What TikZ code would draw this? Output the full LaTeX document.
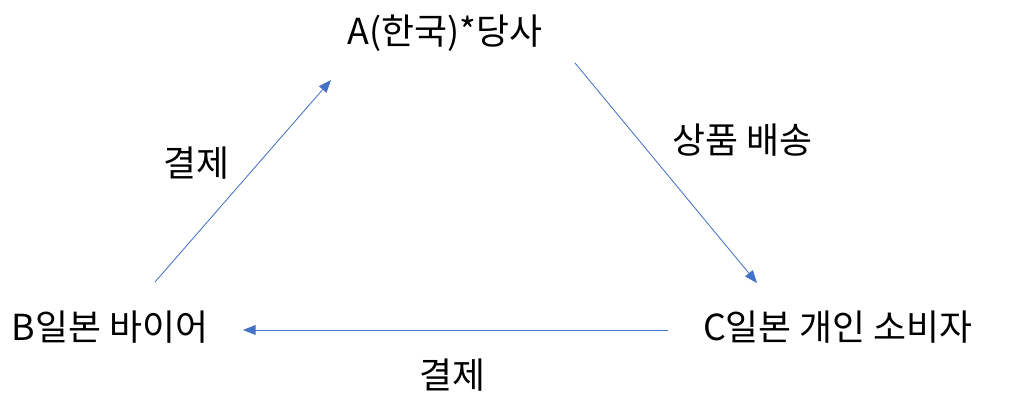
\documentclass[tikz,border=0pt]{standalone}
\usepackage{fontspec}
\setmainfont{Noto Sans CJK KR}
\usepackage{tikz}
\usetikzlibrary{arrows.meta,positioning}
\definecolor{flowblue}{RGB}{68,114,196}
\tikzstyle{flow} = [flowblue, line width=0.6pt, -{Triangle[length=9pt,width=7pt]}]
\tikzstyle{party} = [font=\fontsize{25.5}{28}\selectfont, inner sep=0pt]
\tikzstyle{tag} = [font=\fontsize{25.5}{28}\selectfont, inner sep=0pt]

\begin{document}
\begin{tikzpicture}[x=0.025cm, y=-0.025cm]
    \useasboundingbox (0,0) rectangle (1025,407);

    % Parties
    \node[party] (korea) at (445, 33) {A(한국)*당사};
    \node[party] (buyer) at (110, 327) {B일본 바이어};
    \node[party] (consumer) at (838, 327) {C일본 개인 소비자};

    % Arrow ends
    \coordinate (buyer out) at (155, 282);
    \coordinate (korea in) at (331, 80);
    \coordinate (korea out) at (575, 63);
    \coordinate (consumer in) at (757, 283);
    \coordinate (consumer out) at (668, 330);
    \coordinate (buyer in) at (243, 330);

    % Arrows
    \draw[flow] (buyer out) -- (korea in);
    \draw[flow] (korea out) -- (consumer in);
    \draw[flow] (consumer out) -- (buyer in);

    % Labels
    \node[tag] (pay up) at (196, 163) {결제};
    \node[tag] (ship) at (742, 140) {상품 배송};
    \node[tag] (pay down) at (452, 375) {결제};
\end{tikzpicture}
\end{document}
